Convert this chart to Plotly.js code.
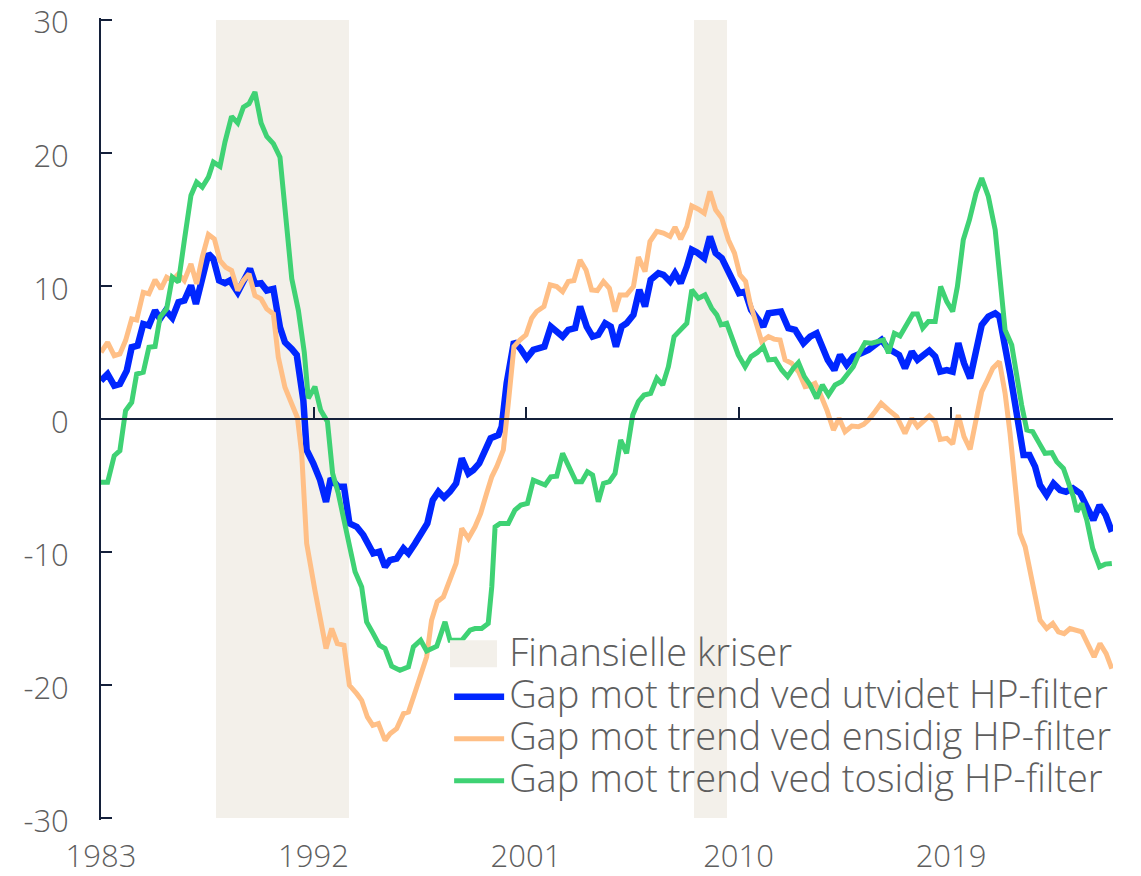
<!DOCTYPE html>
<html>
<head>
<meta charset="utf-8">
<script src="https://cdn.plot.ly/plotly-3.0.1.min.js"></script>
<style>
html, body { margin: 0; padding: 0; background: #ffffff; }
#chart { width: 1141px; height: 876px; }
</style>
</head>
<body>
<div id="chart"></div>
<script>
// ---- Data ----
const seriesNames = [
  "Gap mot trend ved utvidet HP-filter",
  "Gap mot trend ved ensidig HP-filter",
  "Gap mot trend ved tosidig HP-filter"
];
const crisisName = "Finansielle kriser";
const crisisStart = [1987.875, 2008.1];
const crisisEnd = [1993.5, 2009.5];

const yearsUtvidet = [
  1983.00,1983.28,1983.56,1983.80,1984.09,1984.30,1984.55,1984.79,1985.03,1985.29,1985.50,1985.74,
  1986.02,1986.28,1986.53,1986.81,1987.02,1987.29,1987.55,1987.76,1988.00,1988.25,1988.46,1988.79,
  1989.03,1989.31,1989.52,1989.78,1990.02,1990.30,1990.58,1990.79,1991.08,1991.29,1991.57,1991.71,
  1991.99,1992.28,1992.53,1992.73,1993.05,1993.29,1993.52,1993.83,1994.11,1994.39,1994.53,1994.79,
  1995.03,1995.24,1995.52,1995.81,1996.02,1996.30,1996.58,1996.82,1997.05,1997.29,1997.53,1997.78,
  1998.04,1998.28,1998.56,1998.77,1999.02,1999.26,1999.50,1999.83,1999.97,2000.18,2000.49,2000.75,
  2001.03,2001.31,2001.52,2001.78,2002.05,2002.30,2002.55,2002.79,2003.08,2003.29,2003.57,2003.82,
  2004.06,2004.35,2004.59,2004.81,2005.05,2005.26,2005.55,2005.80,2006.04,2006.28,2006.61,2006.82,
  2007.10,2007.31,2007.55,2007.81,2008.02,2008.25,2008.55,2008.79,2009.03,2009.29,2009.57,2009.78,
  2010.02,2010.28,2010.53,2010.80,2011.05,2011.27,2011.55,2011.80,2012.11,2012.40,2012.75,2013.03,
  2013.31,2013.59,2013.78,2014.06,2014.30,2014.58,2014.86,2015.19,2015.50,2015.78,2016.06,2016.32,
  2016.56,2016.80,2017.05,2017.34,2017.58,2017.83,2018.08,2018.33,2018.54,2018.82,2019.07,2019.31,
  2019.55,2019.81,2020.06,2020.30,2020.58,2020.87,2021.05,2021.29,2021.50,2021.71,2021.90,2022.07,
  2022.32,2022.56,2022.77,2023.05,2023.34,2023.62,2023.87,2024.16,2024.47,2024.75,2025.03,2025.29,
  2025.55,2025.81
];
const gapUtvidet = [
  2.88,3.38,2.51,2.63,3.63,5.39,5.51,7.14,7.02,8.15,7.52,8.15,
  7.59,8.77,8.90,10.03,8.65,10.40,12.41,12.03,10.40,10.20,10.40,9.52,
  10.40,11.28,10.15,10.20,9.65,9.77,6.89,5.76,5.26,4.81,1.38,-2.33,
  -3.33,-4.59,-6.22,-4.46,-5.09,-5.09,-7.84,-8.10,-8.72,-9.72,-10.10,-9.97,
  -11.10,-10.60,-10.48,-9.72,-10.10,-9.35,-8.60,-7.84,-6.09,-5.46,-5.89,-5.46,
  -4.84,-2.96,-4.09,-3.83,-3.33,-2.33,-1.45,-1.20,-0.58,2.68,5.81,5.31,
  4.56,5.19,5.31,5.44,6.94,6.57,6.19,6.69,6.82,8.45,6.94,6.19,
  6.32,7.19,6.94,5.44,6.94,7.19,7.82,9.70,8.45,10.45,10.95,10.83,
  10.33,10.95,10.20,11.45,12.71,12.50,12.08,13.71,12.46,12.08,10.95,10.33,
  9.45,9.57,8.20,7.50,6.94,7.94,8.00,8.07,6.82,6.69,5.69,6.19,
  6.44,5.06,4.44,3.68,4.81,4.06,4.69,4.94,5.19,5.56,5.94,5.31,
  5.06,4.81,3.81,5.06,4.44,4.81,5.14,4.69,3.56,3.68,3.56,5.69,
  4.19,3.06,4.94,7.07,7.69,7.94,7.69,5.69,3.43,1.18,-1.08,-2.71,
  -2.71,-3.58,-4.96,-5.71,-4.84,-5.34,-5.46,-5.21,-5.59,-6.59,-7.59,-6.47,
  -7.22,-8.47
];

const yearsEnsidig = [
  1983.00,1983.28,1983.56,1983.80,1984.04,1984.30,1984.51,1984.79,1985.03,1985.29,1985.54,1985.78,
  1986.02,1986.28,1986.53,1986.81,1987.05,1987.29,1987.55,1987.80,1988.04,1988.28,1988.53,1988.79,
  1989.03,1989.27,1989.52,1989.78,1990.02,1990.30,1990.51,1990.79,1991.08,1991.32,1991.50,1991.71,
  1992.06,1992.28,1992.53,1992.77,1993.01,1993.29,1993.52,1993.83,1994.04,1994.28,1994.51,1994.75,
  1995.03,1995.24,1995.52,1995.81,1996.02,1996.26,1996.51,1996.79,1997.00,1997.24,1997.50,1997.75,
  1998.04,1998.28,1998.56,1998.84,1999.08,1999.33,1999.55,1999.76,2000.04,2000.25,2000.49,2000.75,
  2001.00,2001.24,2001.45,2001.76,2002.02,2002.30,2002.55,2002.79,2003.03,2003.29,2003.54,2003.78,
  2004.02,2004.28,2004.53,2004.77,2004.98,2005.26,2005.55,2005.76,2006.04,2006.25,2006.54,2006.82,
  2007.10,2007.31,2007.55,2007.81,2008.02,2008.30,2008.55,2008.79,2009.03,2009.29,2009.57,2009.83,
  2010.06,2010.30,2010.49,2010.77,2010.98,2011.27,2011.50,2011.76,2011.97,2012.25,2012.54,2012.82,
  2013.03,2013.24,2013.45,2013.74,2014.02,2014.26,2014.51,2014.80,2015.08,2015.30,2015.50,2015.78,
  2016.04,2016.35,2016.70,2017.05,2017.34,2017.58,2017.83,2018.08,2018.33,2018.54,2018.82,2019.07,
  2019.31,2019.55,2019.81,2020.06,2020.30,2020.54,2020.77,2021.05,2021.29,2021.50,2021.71,2021.92,
  2022.14,2022.35,2022.56,2022.77,2023.05,2023.31,2023.55,2023.79,2024.04,2024.30,2024.54,2024.82,
  2025.06,2025.31,2025.57,2025.81
];
const gapEnsidig = [
  5.01,5.76,4.76,4.89,5.89,7.52,7.44,9.52,9.40,10.45,9.77,10.65,
  10.40,10.90,10.40,11.65,10.15,12.16,13.86,13.53,11.90,11.40,11.15,9.65,
  10.40,10.90,9.27,9.02,8.27,7.89,4.64,2.38,1.13,0.10,-2.60,-9.35,
  -12.86,-15.11,-17.24,-15.74,-16.87,-16.99,-20.00,-20.63,-21.13,-22.38,-23.01,-22.88,
  -24.14,-23.64,-23.26,-22.13,-22.01,-20.75,-19.37,-17.87,-15.11,-13.73,-13.36,-12.11,
  -10.85,-8.22,-8.97,-8.10,-7.09,-5.59,-4.34,-3.58,-2.33,1.18,5.44,5.94,
  6.32,7.57,8.07,8.45,10.08,9.95,9.57,10.33,10.40,11.95,11.20,9.70,
  9.65,10.33,9.82,8.07,9.32,9.32,9.95,12.16,11.08,13.33,14.09,13.96,
  13.71,14.41,13.51,14.46,16.01,15.76,15.46,17.09,15.71,15.09,13.46,12.46,
  10.83,10.33,8.70,7.07,5.81,6.19,6.00,5.94,4.44,4.19,3.56,2.43,
  2.50,2.68,1.93,0.68,-0.83,0.05,-0.95,-0.53,-0.58,-0.40,-0.08,0.55,
  1.18,0.68,0.18,-1.08,0.05,-0.58,-0.20,0.23,-0.20,-1.53,-1.45,-1.88,
  0.30,-1.33,-2.28,-0.08,2.06,2.93,3.81,4.31,1.93,-1.08,-4.84,-8.60,
  -9.60,-11.60,-13.61,-15.11,-15.74,-15.36,-15.99,-16.12,-15.74,-15.91,-15.99,-17.00,
  -17.87,-16.87,-17.62,-18.75
];

const yearsTosidig = [
  1983.00,1983.28,1983.56,1983.80,1984.04,1984.30,1984.51,1984.79,1985.03,1985.29,1985.50,1985.78,
  1986.02,1986.28,1986.53,1986.81,1987.05,1987.29,1987.55,1987.76,1988.04,1988.25,1988.53,1988.79,
  1989.03,1989.27,1989.52,1989.78,1990.02,1990.30,1990.58,1990.79,1991.08,1991.36,1991.61,1991.78,
  1992.06,1992.30,1992.59,1992.81,1993.05,1993.26,1993.48,1993.76,1994.04,1994.25,1994.53,1994.79,
  1995.03,1995.31,1995.66,1996.02,1996.23,1996.54,1996.79,1997.22,1997.57,1997.78,1998.28,1998.63,
  1998.84,1999.12,1999.40,1999.55,1999.69,1999.90,2000.25,2000.53,2000.78,2001.06,2001.31,2001.52,
  2001.81,2002.05,2002.30,2002.55,2002.84,2003.12,2003.36,2003.60,2003.82,2004.06,2004.28,2004.53,
  2004.77,2005.01,2005.26,2005.52,2005.76,2006.00,2006.28,2006.54,2006.79,2007.03,2007.27,2007.52,
  2007.81,2008.02,2008.30,2008.58,2008.86,2009.08,2009.26,2009.50,2009.78,2009.99,2010.28,2010.53,
  2010.80,2011.05,2011.27,2011.55,2011.83,2012.08,2012.32,2012.54,2012.79,2013.03,2013.31,2013.55,
  2013.81,2014.09,2014.37,2014.62,2014.86,2015.11,2015.36,2015.64,2015.92,2016.14,2016.35,2016.60,
  2016.84,2017.10,2017.38,2017.58,2017.80,2018.04,2018.33,2018.56,2018.82,2019.07,2019.27,2019.52,
  2019.78,2020.06,2020.30,2020.58,2020.87,2021.08,2021.29,2021.57,2021.78,2021.99,2022.21,2022.46,
  2022.74,2022.98,2023.27,2023.48,2023.76,2023.97,2024.18,2024.33,2024.54,2024.75,2025.00,2025.29,
  2025.53,2025.81
];
const gapTosidig = [
  -4.76,-4.76,-2.76,-2.38,0.63,1.25,3.38,3.51,5.39,5.44,7.64,8.27,
  10.65,10.28,13.41,16.79,17.79,17.42,18.17,19.30,18.97,20.80,22.73,22.23,
  23.43,23.68,24.56,22.23,21.23,20.68,19.67,15.41,10.53,8.15,5.00,1.55,
  2.43,0.68,-0.20,-4.09,-5.59,-7.34,-9.35,-11.48,-12.61,-15.24,-16.12,-16.99,
  -17.24,-18.57,-18.87,-18.62,-17.12,-16.62,-17.42,-17.07,-15.24,-16.62,-16.62,-15.86,
  -15.74,-15.74,-15.36,-12.61,-8.10,-7.84,-7.84,-6.84,-6.47,-6.34,-4.59,-4.71,
  -4.96,-4.34,-4.29,-2.58,-3.71,-4.71,-4.71,-3.96,-4.21,-6.22,-4.84,-4.71,
  -4.09,-1.58,-2.58,0.30,1.30,1.80,1.93,3.06,2.56,3.93,6.19,6.69,
  7.19,9.70,9.07,9.32,8.32,7.82,7.07,7.19,5.81,4.81,3.93,4.69,
  5.00,5.44,4.44,4.49,3.68,3.18,3.81,4.24,3.18,2.56,1.55,2.56,
  1.80,2.56,2.81,3.31,3.93,4.94,5.74,5.69,5.81,5.94,4.94,6.44,
  6.24,7.07,7.89,7.89,6.82,7.32,7.32,9.95,8.82,8.07,9.95,13.46,
  14.96,16.97,18.10,16.72,14.21,10.45,6.69,5.56,3.18,1.05,-0.83,-0.95,
  -1.83,-2.58,-2.53,-3.21,-3.71,-4.71,-5.84,-6.97,-6.34,-7.59,-9.72,-11.10,
  -10.90,-10.85
];

const xTickVals = [1983, 1992, 2001, 2010, 2019];
const xTickText = ["1983", "1992", "2001", "2010", "2019"];
const yTickVals = [-30, -20, -10, 0, 10, 20, 30];
const yTickText = ["-30", "-20", "-10", "0", "10", "20", "30"];

// ---- Styles ----
const lineColors = ["#0026ff", "#ffbf86", "#3fd274"];
const lineWidths = [6.5, 5, 5];
const crisisColor = "#f3f0ea";
const axisColor = "#14203a";
const textColor = "#5e5e5e";
const fontFamily = "'Open Sans', Lato, 'Liberation Sans', sans-serif";
const legendTextSize = 38;
const tickTextSize = 31;
const xRange = [1983, 2025.86];
const yRange = [-30.12, 30.12];
const shadeBottom = -30, shadeTop = 30;

const crisisMid = crisisStart.map((s, i) => (s + crisisEnd[i]) / 2);
const crisisWidth = crisisStart.map((s, i) => crisisEnd[i] - s);
const big = (t) => '<span style="font-size:' + legendTextSize + 'px">' + t + '</span>';

const traces = [
  {
    type: "bar",
    name: big(crisisName),
    x: crisisMid,
    width: crisisWidth,
    y: crisisStart.map(() => shadeTop - shadeBottom),
    base: crisisStart.map(() => shadeBottom),
    marker: { color: crisisColor, line: { width: 0 } },
    hoverinfo: "skip"
  },
  {
    type: "scatter", mode: "lines", name: big(seriesNames[0]),
    x: yearsUtvidet, y: gapUtvidet,
    line: { color: lineColors[0], width: lineWidths[0] }
  },
  {
    type: "scatter", mode: "lines", name: big(seriesNames[1]),
    x: yearsEnsidig, y: gapEnsidig,
    line: { color: lineColors[1], width: lineWidths[1] }
  },
  {
    type: "scatter", mode: "lines", name: big(seriesNames[2]),
    x: yearsTosidig, y: gapTosidig,
    line: { color: lineColors[2], width: lineWidths[2] }
  },
  {
    // carrier for the zero-line axis (draws nothing)
    type: "scatter", mode: "none", x: [xRange[0]], y: [0],
    xaxis: "x2", showlegend: false, hoverinfo: "skip"
  }
];

const layout = {
  width: 1141,
  height: 876,
  margin: { l: 101, r: 28, t: 18.4, b: 56.4, pad: 0 },
  paper_bgcolor: "#ffffff",
  plot_bgcolor: "#ffffff",
  font: { family: fontFamily, color: textColor, size: 30, weight: 300 },
  showlegend: true,
  barmode: "overlay",
  bargap: 0,
  xaxis: {
    range: xRange,
    tickmode: "array",
    tickvals: xTickVals,
    ticktext: xTickText,
    showline: false,
    showgrid: false,
    zeroline: false,
    ticks: "",
    ticklabelstandoff: 15,
    ticklabeloverflow: "allow",
    tickfont: { family: fontFamily, size: tickTextSize, color: textColor, weight: 300 },
    fixedrange: true
  },
  xaxis2: {
    range: xRange,
    overlaying: "x",
    anchor: "free",
    position: 0.5,
    tickmode: "array",
    tickvals: xTickVals,
    showticklabels: false,
    showline: true,
    linecolor: axisColor,
    linewidth: 2,
    ticks: "inside",
    ticklen: 11,
    tickwidth: 2,
    tickcolor: axisColor,
    showgrid: false,
    zeroline: false,
    fixedrange: true
  },
  yaxis: {
    range: yRange,
    tickmode: "array",
    tickvals: yTickVals,
    ticktext: yTickText,
    showline: true,
    linecolor: axisColor,
    linewidth: 2,
    ticks: "inside",
    ticklen: 11,
    tickwidth: 2,
    tickcolor: axisColor,
    showgrid: false,
    zeroline: false,
    ticklabelstandoff: 24,
    ticklabelshift: 3,
    ticklabeloverflow: "allow",
    tickfont: { family: fontFamily, size: tickTextSize, color: textColor, weight: 300 },
    fixedrange: true
  },
  legend: {
    x: 0.344,
    y: 0.2385,
    xanchor: "left",
    yanchor: "top",
    bgcolor: "rgba(0,0,0,0)",
    borderwidth: 0,
    traceorder: "normal",
    itemwidth: 50,
    font: { family: fontFamily, size: 30, color: textColor, weight: 300 }
  },
  shapes: [
    {
      // enlarged legend swatch for "Finansielle kriser"
      type: "rect", xref: "paper", yref: "paper",
      x0: 0.3449, x1: 0.3913, y0: 0.1905, y1: 0.2242,
      fillcolor: crisisColor, line: { width: 0 }, layer: "above"
    }
  ]
};

Plotly.newPlot("chart", traces, layout, { displayModeBar: false, staticPlot: true });
</script>
</body>
</html>
